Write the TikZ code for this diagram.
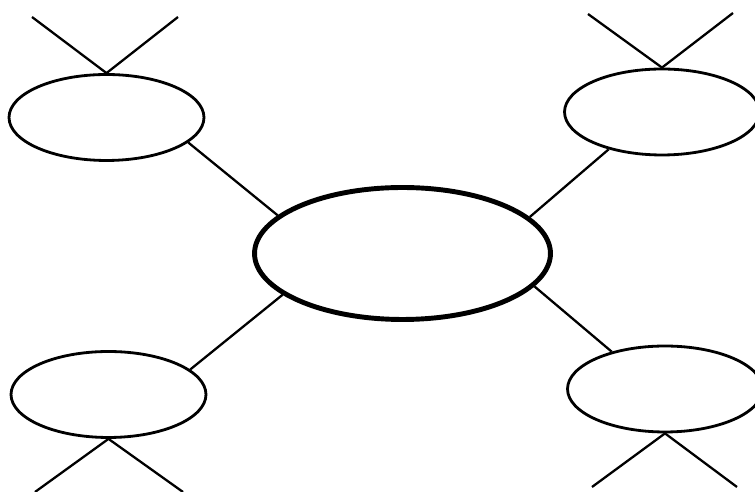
\documentclass[tikz,border=0pt]{standalone}
\usepackage{tikz}
\usetikzlibrary{shapes.geometric}

\begin{document}
\begin{tikzpicture}[
  x=0.02cm, y=-0.02cm,
  bubble/.style={ellipse, draw, line width=1.6pt, inner sep=0pt,
                 minimum width=3.9cm, minimum height=1.72cm},
  hub/.style={ellipse, draw, line width=2.8pt, inner sep=0pt,
              minimum width=5.92cm, minimum height=2.64cm},
  link/.style={line width=1.3pt}]
\useasboundingbox (0,0) rectangle (755,492);
\node[hub] (hub) at (402.5,253.5) {};
\node[bubble] (tl) at (106.5,117.5) {};
\node[bubble] (tr) at (662,112) {};
\node[bubble] (bl) at (108.5,394.5) {};
\node[bubble] (br) at (665,389) {};
% free ends of the crossed strokes
\coordinate (tl a) at (32,17);
\coordinate (tl b) at (178,17);
\coordinate (tr a) at (588,14);
\coordinate (tr b) at (733,13);
\coordinate (bl a) at (35,492);
\coordinate (bl b) at (183,492);
\coordinate (br a) at (592,487);
\coordinate (br b) at (737,487);
\draw[link] (tl a) -- (tl.north) -- (tl b);
\draw[link] (tr a) -- (tr.north) -- (tr b);
\draw[link] (bl a) -- (bl.south) -- (bl b);
\draw[link] (br a) -- (br.south) -- (br b);
% spokes to the hub
\draw[link] (tl.-17) -- (hub.163);
\draw[link] (tr.-145) -- (hub.16);
\draw[link] (bl.17) -- (hub.-161);
\draw[link] (br.145) -- (hub.-14);
\end{tikzpicture}
\end{document}
